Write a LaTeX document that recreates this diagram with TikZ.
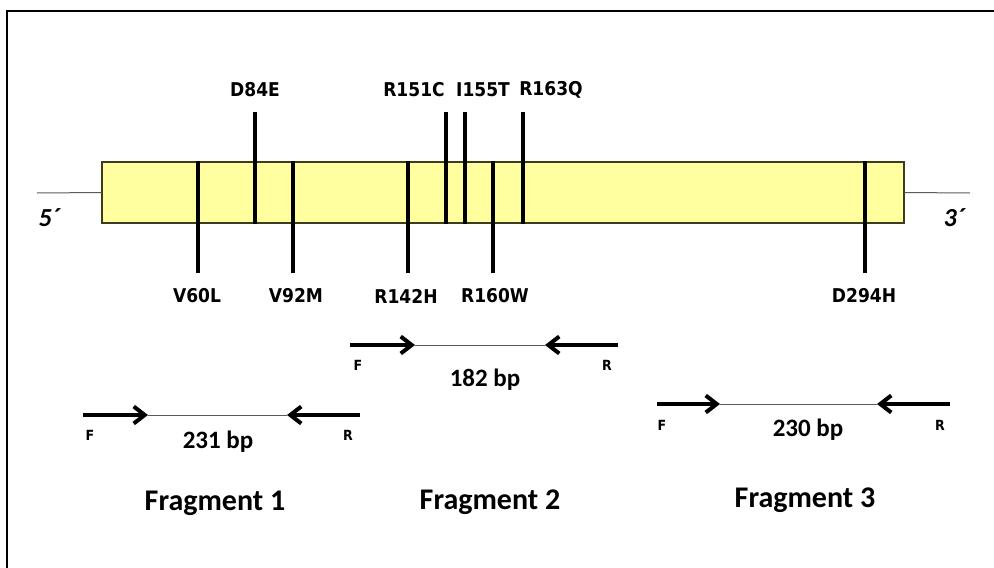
\documentclass[tikz,border=0pt]{standalone}
\usepackage{fontspec}
\setmainfont{Carlito}
\newfontfamily\mutfont{DejaVu Sans Condensed}[BoldFont={DejaVu Sans Condensed Bold}]
\usepackage{xcolor}
\usetikzlibrary{arrows.meta,positioning}
\definecolor{geneyellow}{RGB}{255,255,160}
\definecolor{geneedge}{RGB}{60,60,30}
\definecolor{wiregray}{RGB}{90,90,90}
\tikzset{
  gbox/.style={draw=geneedge, fill=geneyellow, line width=1.2pt, minimum width=802pt, minimum height=61pt, inner sep=0pt},
  gwire/.style={draw=wiregray, line width=1pt},
  mline/.style={line width=3.2pt},
  mlabel/.style={font=\mutfont\bfseries\fontsize{19}{23}\selectfont, inner sep=0pt},
  endlabel/.style={font=\bfseries\itshape\fontsize{26}{30}\selectfont, inner sep=0pt},
  primer/.style={line width=4pt, -{Straight Barb[length=11pt,width=17pt]}},
  ampl/.style={draw=wiregray, line width=1pt},
  plabel/.style={font=\mutfont\bfseries\fontsize{14}{16}\selectfont, inner sep=0pt},
  bplabel/.style={font=\bfseries\fontsize{25}{29}\selectfont, inner sep=0pt},
  flabel/.style={font=\bfseries\fontsize{30}{34}\selectfont, inner sep=0pt},
  pframe/.style={line width=1.5pt}
}

\begin{document}
\begin{tikzpicture}[x=1pt,y=-1pt]
\useasboundingbox (0,0) rectangle (994,568);
\clip (0,0) rectangle (994,568);
\draw[pframe] (7,590) -- (7,11) -- (1010,11);
% gene with flanking ends
\coordinate (five) at (37,193);
\coordinate (three) at (970,193);
\node[gbox] (gene) at (503,192.5) {};
\draw[gwire] (five) -- (gene.west);
\draw[gwire] (gene.east) -- (three);
\node[endlabel] (fivelab) at (49,218) {5´};
\node[endlabel] (threelab) at (954,218) {3´};
% mutations above the gene
\coordinate (d84e) at (255,112);
\coordinate (r151c) at (446,112);
\coordinate (i155t) at (465,112);
\coordinate (r163q) at (523,112);
\draw[mline] (d84e) -- (d84e |- gene.south);
\draw[mline] (r151c) -- (r151c |- gene.south);
\draw[mline] (i155t) -- (i155t |- gene.south);
\draw[mline] (r163q) -- (r163q |- gene.south);
\node[mlabel] (d84elab) at (255,90) {D84E};
\node[mlabel] (r151clab) at (414,90) {R151C};
\node[mlabel] (i155tlab) at (483,90) {I155T};
\node[mlabel] (r163qlab) at (551,90) {R163Q};
% mutations below the gene
\coordinate (v60l) at (198,273);
\coordinate (v92m) at (293,273);
\coordinate (r142h) at (408,273);
\coordinate (r160w) at (493,273);
\coordinate (d294h) at (865,273);
\draw[mline] (v60l |- gene.north) -- (v60l);
\draw[mline] (v92m |- gene.north) -- (v92m);
\draw[mline] (r142h |- gene.north) -- (r142h);
\draw[mline] (r160w |- gene.north) -- (r160w);
\draw[mline] (d294h |- gene.north) -- (d294h);
\node[mlabel] (v60llab) at (197,296) {V60L};
\node[mlabel] (v92mlab) at (296,296) {V92M};
\node[mlabel] (r142hlab) at (406,296) {R142H};
\node[mlabel] (r160wlab) at (495,296) {R160W};
\node[mlabel] (d294hlab) at (864,296) {D294H};
% fragment 1
\coordinate (f1a) at (83,415);
\coordinate (f1b) at (148,415);
\coordinate (r1b) at (287,415);
\coordinate (r1a) at (360,415);
\draw[ampl] (f1b) -- (r1b);
\draw[primer] (f1a) -- (f1b);
\draw[primer] (r1a) -- (r1b);
\node[plabel] (f1) at (90,435) {F};
\node[plabel] (r1) at (348,435) {R};
\node[bplabel] (bp1) at (218,442) {231 bp};
\node[flabel] (frag1) at (215,503) {Fragment 1};
% fragment 2
\coordinate (f2a) at (350,345);
\coordinate (f2b) at (415,345);
\coordinate (r2b) at (545,345);
\coordinate (r2a) at (618,345);
\draw[ampl] (f2b) -- (r2b);
\draw[primer] (f2a) -- (f2b);
\draw[primer] (r2a) -- (r2b);
\node[plabel] (f2) at (358,365) {F};
\node[plabel] (r2) at (607,365) {R};
\node[bplabel] (bp2) at (485,380) {182 bp};
\node[flabel] (frag2) at (490,502) {Fragment 2};
% fragment 3
\coordinate (f3a) at (657,404);
\coordinate (f3b) at (720,404);
\coordinate (r3b) at (877,404);
\coordinate (r3a) at (950,404);
\draw[ampl] (f3b) -- (r3b);
\draw[primer] (f3a) -- (f3b);
\draw[primer] (r3a) -- (r3b);
\node[plabel] (f3) at (662,425) {F};
\node[plabel] (r3) at (940,425) {R};
\node[bplabel] (bp3) at (808,430) {230 bp};
\node[flabel] (frag3) at (805,500) {Fragment 3};
\end{tikzpicture}
\end{document}
